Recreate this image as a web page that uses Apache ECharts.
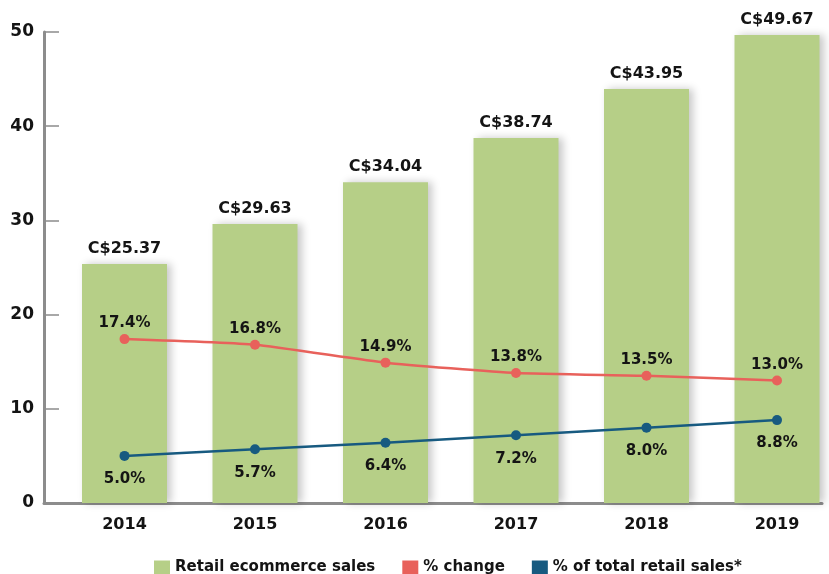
<!DOCTYPE html>
<html>
<head>
<meta charset="utf-8">
<script src="https://cdn.jsdelivr.net/npm/echarts@6/dist/echarts.min.js"></script>
<style>
html,body{margin:0;padding:0;background:#fff;}
#chart{width:829px;height:574px;}
</style>
</head>
<body>
<div id="chart"></div>
<script>
var years = ['2014','2015','2016','2017','2018','2019'];
var salesValues = [25.37, 29.63, 34.04, 38.74, 43.95, 49.67];
var changeValues = [17.4, 16.8, 14.9, 13.8, 13.5, 13.0];
var shareValues = [5.0, 5.7, 6.4, 7.2, 8.0, 8.8];
var yTicks = [0, 10, 20, 30, 40, 50];

var FONT = 'DejaVu Sans';
var TXT = '#141414';
var AXIS = '#8c8c8c';

var chart = echarts.init(document.getElementById('chart'), null, {renderer:'canvas'});
chart.setOption({
  backgroundColor: '#ffffff',
  animation: false,
  textStyle: {fontFamily: FONT},
  legend: {
    left: 149, top: 555,
    icon: 'rect', itemWidth: 16, itemHeight: 14, itemGap: 27,
    textStyle: {fontFamily: FONT, fontWeight: 'bold', fontSize: 15, color: TXT},
    data: ['Retail ecommerce sales', '% change', '% of total retail sales*']
  },
  grid: [
    {left: 124.5, width: 652.5, top: 32, bottom: 71},
    {left: 44, width: 778, top: 32, bottom: 71}
  ],
  xAxis: [
    {
      type: 'category', gridIndex: 0, data: years, boundaryGap: false,
      axisLine: {show: false}, axisTick: {show: false},
      axisLabel: {fontFamily: FONT, fontWeight: 'bold', fontSize: 16, color: TXT, margin: 14}
    },
    {
      type: 'category', gridIndex: 1, data: years, boundaryGap: true,
      axisLine: {show: true, lineStyle: {color: AXIS, width: 3}},
      axisTick: {show: false}, axisLabel: {show: false}
    }
  ],
  yAxis: [
    {type: 'value', gridIndex: 0, min: yTicks[0], max: yTicks[yTicks.length-1], interval: 10, show: false},
    {
      type: 'value', gridIndex: 1, min: yTicks[0], max: yTicks[yTicks.length-1], interval: 10,
      axisLine: {show: true, lineStyle: {color: AXIS, width: 3}},
      axisTick: {show: true, inside: true, length: 15, lineStyle: {color: AXIS, width: 1.5}},
      splitLine: {show: false},
      axisLabel: {fontFamily: FONT, fontWeight: 'bold', fontSize: 17, color: TXT, margin: 10}
    }
  ],
  series: [
    {
      name: 'Retail ecommerce sales', type: 'bar', xAxisIndex: 0, yAxisIndex: 0,
      data: salesValues, barWidth: 85, clip: false,
      itemStyle: {color: '#b6cf87', shadowColor: 'rgba(0,0,0,0.22)', shadowBlur: 8, shadowOffsetX: 4},
      label: {
        show: true, position: 'top', distance: 7,
        fontFamily: FONT, fontWeight: 'bold', fontSize: 16, color: TXT,
        formatter: function(p){ return 'C$' + p.value.toFixed(2); }
      }
    },
    {
      name: '% change', type: 'line', xAxisIndex: 0, yAxisIndex: 0,
      data: changeValues, smooth: 0.15, symbol: 'circle', symbolSize: 10, clip: false,
      lineStyle: {color: '#e8615b', width: 2.5}, itemStyle: {color: '#e8615b'},
      label: {
        show: true, position: 'top', distance: 3,
        fontFamily: FONT, fontWeight: 'bold', fontSize: 15, color: TXT,
        formatter: function(p){ return p.value.toFixed(1) + '%'; }
      }
    },
    {
      name: '% of total retail sales*', type: 'line', xAxisIndex: 0, yAxisIndex: 0,
      data: shareValues, smooth: 0.15, symbol: 'circle', symbolSize: 10, clip: false,
      lineStyle: {color: '#175a80', width: 2.5}, itemStyle: {color: '#175a80'},
      label: {
        show: true, position: 'bottom', distance: 11,
        fontFamily: FONT, fontWeight: 'bold', fontSize: 15, color: TXT,
        formatter: function(p){ return p.value.toFixed(1) + '%'; }
      }
    }
  ]
});
</script>
</body>
</html>
